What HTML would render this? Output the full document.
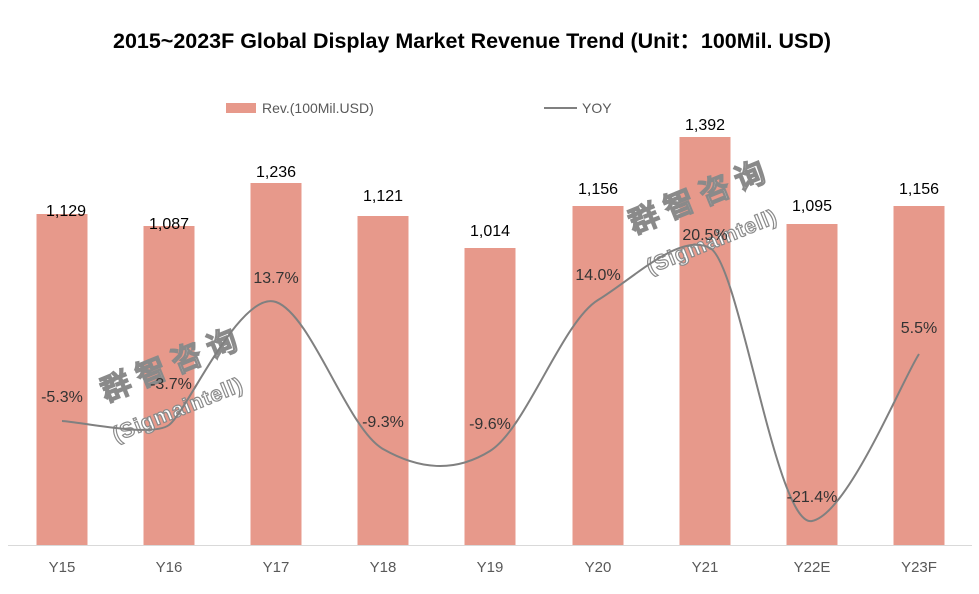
<!DOCTYPE html>
<html><head><meta charset="utf-8"><style>
body{margin:0;background:#fff}
svg{display:block}
text{font-family:"Liberation Sans",Arial,sans-serif}
</style></head><body>
<svg width="979" height="594" viewBox="0 0 979 594" xmlns="http://www.w3.org/2000/svg">
<rect width="979" height="594" fill="#fff"/>
<text x="472" y="48" text-anchor="middle" font-size="21" font-weight="bold" fill="#000" font-family="Liberation Sans, Noto Sans CJK SC, sans-serif" textLength="718" lengthAdjust="spacingAndGlyphs">2015~2023F Global Display Market Revenue Trend (Unit：100Mil. USD)</text>
<rect x="226" y="103" width="30" height="10" fill="#e7998b"/>
<text x="262" y="113" font-size="14" fill="#595959">Rev.(100Mil.USD)</text>
<line x1="544" y1="108" x2="577" y2="108" stroke="#808080" stroke-width="2"/>
<text x="582" y="113" font-size="14" fill="#595959">YOY</text>
<g fill="#e7998b">
<rect x="36.5" y="214" width="51" height="331"/>
<rect x="143.5" y="226" width="51" height="319"/>
<rect x="250.5" y="183" width="51" height="362"/>
<rect x="357.5" y="216" width="51" height="329"/>
<rect x="464.5" y="248" width="51" height="297"/>
<rect x="572.5" y="206" width="51" height="339"/>
<rect x="679.5" y="137" width="51" height="408"/>
<rect x="786.5" y="224" width="51" height="321"/>
<rect x="893.5" y="206" width="51" height="339"/>
</g>
<line x1="8" y1="545.5" x2="972" y2="545.5" stroke="#d9d9d9"/>
<g font-size="16" fill="#000" text-anchor="middle">
<text x="66" y="216">1,129</text>
<text x="169" y="229">1,087</text>
<text x="276" y="177">1,236</text>
<text x="383" y="201">1,121</text>
<text x="490" y="236">1,014</text>
<text x="598" y="194">1,156</text>
<text x="705" y="130">1,392</text>
<text x="812" y="211">1,095</text>
<text x="919" y="194">1,156</text>
</g>
<g font-size="15" fill="#595959" text-anchor="middle">
<text x="62" y="572">Y15</text><text x="169" y="572">Y16</text><text x="276" y="572">Y17</text>
<text x="383" y="572">Y18</text><text x="490" y="572">Y19</text><text x="598" y="572">Y20</text>
<text x="705" y="572">Y21</text><text x="812" y="572">Y22E</text><text x="919" y="572">Y23F</text>
</g>
<g font-family="Liberation Sans, Noto Sans CJK SC, sans-serif" font-weight="bold" fill="#fff" stroke="#8a8a8a" stroke-width="1.2">
<text transform="translate(106,402) rotate(-22)" font-size="30" letter-spacing="8">群智咨询</text>
<text transform="translate(116,442) rotate(-22)" font-size="21" letter-spacing="1">(Sigmaintell)</text>
<text transform="translate(634,234) rotate(-22)" font-size="30" letter-spacing="8">群智咨询</text>
<text transform="translate(650,274) rotate(-22)" font-size="21" letter-spacing="1">(Sigmaintell)</text>
</g>
<path d="M62,421 C79.8,421.7 151.2,437.8 169,425 C186.8,412.2 240.3,289.3 276,302 C311.7,314.7 347.3,428.8 383,449 C418.7,469.2 454,473.3 490,451 C526,428.7 562,322 598,300 C634,278 680,232 710,248 C740,264 776.3,528 812,521 C847.7,514 901.2,381.8 919,354" fill="none" stroke="#808080" stroke-width="2"/>
<g font-size="16" fill="#333" text-anchor="middle">
<text x="62" y="402">-5.3%</text>
<text x="171" y="389">-3.7%</text>
<text x="276" y="283">13.7%</text>
<text x="383" y="427">-9.3%</text>
<text x="490" y="429">-9.6%</text>
<text x="598" y="280">14.0%</text>
<text x="705" y="240">20.5%</text>
<text x="812" y="502">-21.4%</text>
<text x="919" y="333">5.5%</text>
</g>
</svg>
</body></html>
